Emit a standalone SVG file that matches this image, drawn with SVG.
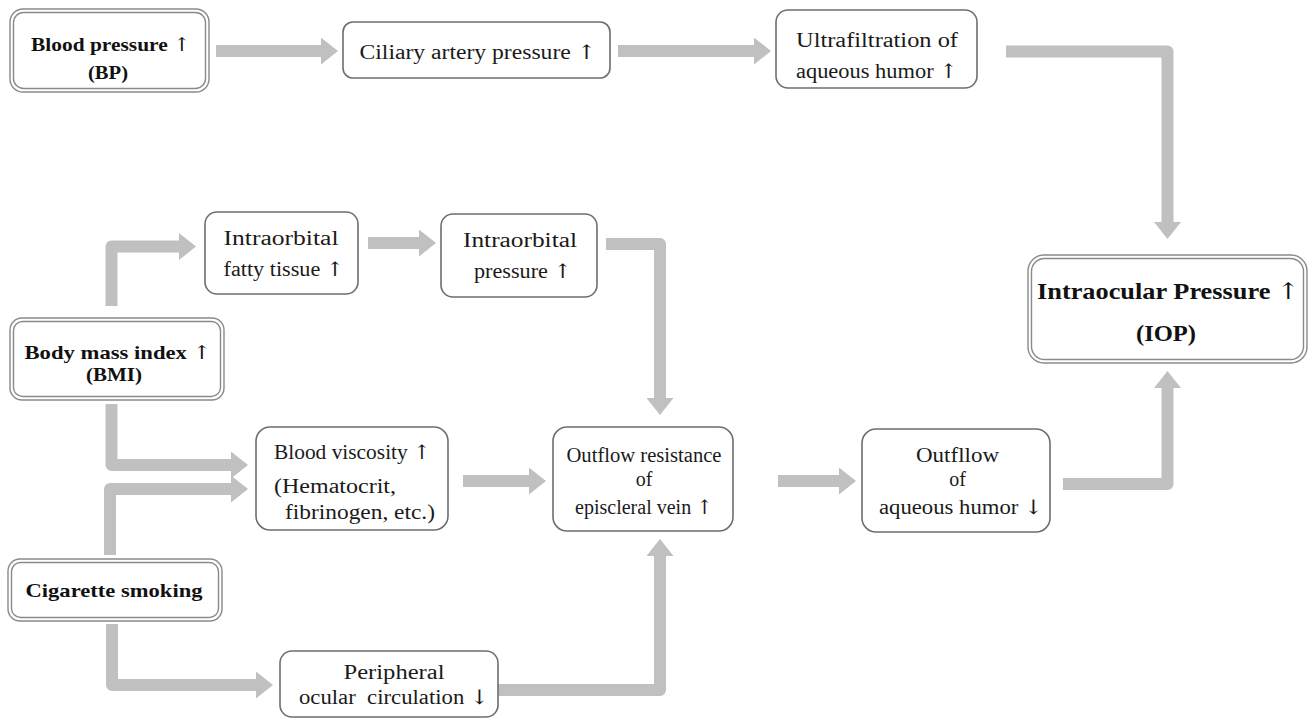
<svg xmlns="http://www.w3.org/2000/svg" width="1309" height="718" viewBox="0 0 1309 718">
<defs>
<style>
.box{fill:#fff;stroke:#6e6e6e;stroke-width:1.6}
.dbl{fill:#fff;stroke:#8a8a8a;stroke-width:1.4}
text{font-family:'Liberation Serif','DejaVu Serif',serif;fill:#1a1a1a;text-anchor:middle}
.t{font-size:20px}
.b{font-size:19px;font-weight:bold;fill:#111}
.big{font-size:23px}
.ar{font-family:'DejaVu Serif',serif;font-weight:normal}
.c{fill:none;stroke:#c0c0c0;stroke-width:12;stroke-linejoin:round;marker-end:url(#ah)}
</style>
<marker id="ah" markerUnits="userSpaceOnUse" markerWidth="17" markerHeight="27" refX="0" refY="13.5" orient="auto" viewBox="0 0 17 27">
<path d="M0,0 L17,13.5 L0,27 Z" fill="#c0c0c0"/>
</marker>
</defs>
<rect width="1309" height="718" fill="#fff"/>
<g id="connectors">
<path class="c" d="M216,51 H321"/>
<path class="c" d="M618,51 H754"/>
<path class="c" d="M1006,51.5 H1167.5 V222"/>
<path class="c" d="M111.5,306 V246.5 H179"/>
<path class="c" d="M368,243 H419"/>
<path class="c" d="M606,244 H660 V398"/>
<path class="c" d="M111.5,404 V465 H231"/>
<path class="c" d="M110,555 V489 H231"/>
<path class="c" d="M112,624 V685 H256"/>
<path class="c" d="M487,690 H660 V556"/>
<path class="c" d="M463,481 H529"/>
<path class="c" d="M778,481 H839"/>
<path class="c" d="M1063,484 H1167.5 V388"/>
</g>
<g id="bp">
<rect class="dbl" x="10" y="9" width="199" height="83" rx="13"/>
<rect class="dbl" x="13.5" y="12.5" width="192" height="76" rx="10"/>
<text class="b" x="111" y="51" textLength="160" lengthAdjust="spacingAndGlyphs">Blood pressure <tspan class="ar">↑</tspan></text>
<text class="b" x="108" y="79" textLength="40" lengthAdjust="spacingAndGlyphs">(BP)</text>
</g>
<g id="ciliary">
<rect class="box" x="343" y="22" width="267" height="56" rx="10"/>
<text class="t" x="478" y="59" textLength="237" lengthAdjust="spacingAndGlyphs">Ciliary artery pressure <tspan class="ar">↑</tspan></text>
</g>
<g id="ultra">
<rect class="box" x="776" y="10" width="201" height="78" rx="12"/>
<text class="t" x="877" y="47" textLength="162" lengthAdjust="spacingAndGlyphs">Ultrafiltration of</text>
<text class="t" x="877" y="78" textLength="162" lengthAdjust="spacingAndGlyphs">aqueous humor <tspan class="ar">↑</tspan></text>
</g>
<g id="iop">
<rect class="dbl" x="1028" y="255" width="279" height="108" rx="16"/>
<rect class="dbl" x="1031.5" y="258.5" width="272" height="101" rx="13"/>
<text class="b big" x="1168" y="299" textLength="262" lengthAdjust="spacingAndGlyphs">Intraocular Pressure <tspan class="ar">↑</tspan></text>
<text class="b big" x="1166" y="341" textLength="60" lengthAdjust="spacingAndGlyphs">(IOP)</text>
</g>
<g id="fatty">
<rect class="box" x="205" y="212" width="153" height="82" rx="12"/>
<text class="t" x="281" y="245" textLength="115" lengthAdjust="spacingAndGlyphs">Intraorbital</text>
<text class="t" x="284" y="276" textLength="121" lengthAdjust="spacingAndGlyphs">fatty tissue <tspan class="ar">↑</tspan></text>
</g>
<g id="orbpressure">
<rect class="box" x="441" y="214" width="156" height="83" rx="12"/>
<text class="t" x="520" y="247" textLength="114" lengthAdjust="spacingAndGlyphs">Intraorbital</text>
<text class="t" x="523" y="278" textLength="98" lengthAdjust="spacingAndGlyphs">pressure <tspan class="ar">↑</tspan></text>
</g>
<g id="bmi">
<rect class="dbl" x="10" y="318" width="214" height="82" rx="12"/>
<rect class="dbl" x="13.5" y="321.5" width="207" height="75" rx="9"/>
<text class="b" x="118" y="359" textLength="187" lengthAdjust="spacingAndGlyphs">Body mass index <tspan class="ar">↑</tspan></text>
<text class="b" x="114" y="381" textLength="56" lengthAdjust="spacingAndGlyphs">(BMI)</text>
</g>
<g id="viscosity">
<rect class="box" x="256" y="427" width="192" height="103" rx="14"/>
<text class="t" x="352.5" y="459" textLength="157" lengthAdjust="spacingAndGlyphs">Blood viscosity <tspan class="ar">↑</tspan></text>
<text class="t" x="274" y="493" style="text-anchor:start" textLength="122" lengthAdjust="spacingAndGlyphs">(Hematocrit,</text>
<text class="t" x="285" y="519" style="text-anchor:start" textLength="150" lengthAdjust="spacingAndGlyphs">fibrinogen, etc.)</text>
</g>
<g id="outflowres">
<rect class="box" x="553" y="427" width="180" height="104" rx="14"/>
<text class="t" x="644" y="462" textLength="155" lengthAdjust="spacingAndGlyphs">Outflow resistance</text>
<text class="t" x="644" y="486">of</text>
<text class="t" x="644" y="514">episcleral vein <tspan class="ar">↑</tspan></text>
</g>
<g id="outfllow">
<rect class="box" x="862" y="429" width="188" height="103" rx="14"/>
<text class="t" x="957.5" y="462" textLength="83" lengthAdjust="spacingAndGlyphs">Outfllow</text>
<text class="t" x="957.5" y="486">of</text>
<text class="t" x="961" y="514" textLength="164" lengthAdjust="spacingAndGlyphs">aqueous humor <tspan class="ar">↓</tspan></text>
</g>
<g id="cigarette">
<rect class="dbl" x="8" y="559" width="214" height="62" rx="12"/>
<rect class="dbl" x="11.5" y="562.5" width="207" height="55" rx="9"/>
<text class="b" x="114" y="597" textLength="177" lengthAdjust="spacingAndGlyphs">Cigarette smoking</text>
</g>
<g id="peripheral">
<rect class="box" x="280" y="651" width="218" height="66" rx="12"/>
<text class="t" x="394" y="679" textLength="101" lengthAdjust="spacingAndGlyphs">Peripheral</text>
<text class="t" x="394" y="704" xml:space="preserve" textLength="190" lengthAdjust="spacingAndGlyphs">ocular  circulation <tspan class="ar">↓</tspan></text>
</g>
</svg>
